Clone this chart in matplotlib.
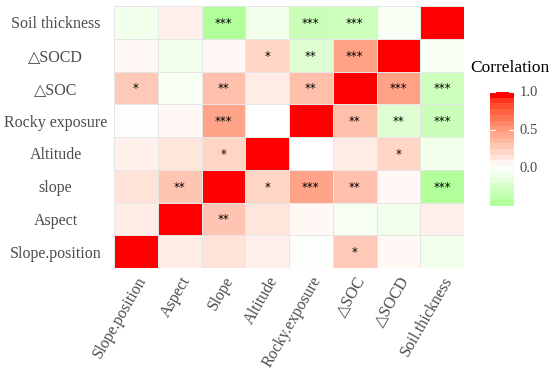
import matplotlib
matplotlib.use("Agg")
import matplotlib.pyplot as plt
from matplotlib.colors import ListedColormap, Normalize
import numpy as np

# variables, bottom-to-top on y and left-to-right on x
col_labels = ["Slope.position", "Aspect", "Slope", "Altitude", "Rocky.exposure",
              "△SOC", "△SOCD", "Soil.thickness"]
row_labels = ["Slope.position", "Aspect", "slope", "Altitude", "Rocky exposure",
              "△SOC", "△SOCD", "Soil thickness"]

# correlation matrix (same order as the labels)
corr = [
    [1.00, 0.10, 0.15, 0.08, -0.01, 0.28, 0.04, -0.10],
    [0.10, 1.00, 0.30, 0.13, 0.04, -0.06, -0.09, 0.08],
    [0.15, 0.30, 1.00, 0.22, 0.47, 0.32, 0.04, -0.50],
    [0.08, 0.13, 0.22, 1.00, 0.00, 0.10, 0.22, -0.10],
    [-0.01, 0.04, 0.47, 0.00, 1.00, 0.33, -0.22, -0.35],
    [0.28, -0.06, 0.32, 0.10, 0.33, 1.00, 0.48, -0.33],
    [0.04, -0.09, 0.04, 0.22, -0.22, 0.48, 1.00, -0.05],
    [-0.10, 0.08, -0.50, -0.10, -0.35, -0.33, -0.05, 1.00],
]
stars = [
    ["", "", "", "", "", "*", "", ""],
    ["", "", "**", "", "", "", "", ""],
    ["", "**", "", "*", "***", "**", "", "***"],
    ["", "", "*", "", "", "", "*", ""],
    ["", "", "***", "", "", "**", "**", "***"],
    ["*", "", "**", "", "**", "", "***", "***"],
    ["", "", "", "*", "**", "***", "", ""],
    ["", "", "***", "", "***", "***", "", ""],
]


# --- colour ramp interpolated in Lab space, like ggplot's gradient2 ---
def srgb_to_lab(rgb):
    c = np.asarray(rgb, float)
    c = np.where(c > 0.04045, ((c + 0.055) / 1.055) ** 2.4, c / 12.92)
    m = np.array([[0.4124, 0.3576, 0.1805],
                  [0.2126, 0.7152, 0.0722],
                  [0.0193, 0.1192, 0.9505]])
    xyz = m @ c / np.array([0.95047, 1.0, 1.08883])
    f = np.where(xyz > 0.008856, np.cbrt(xyz), 7.787 * xyz + 16 / 116)
    return np.array([116 * f[1] - 16, 500 * (f[0] - f[1]), 200 * (f[1] - f[2])])


def lab_to_srgb(lab):
    L, a, b = lab
    fy = (L + 16) / 116
    fx = fy + a / 500
    fz = fy - b / 200
    f = np.array([fx, fy, fz])
    xyz = np.where(f ** 3 > 0.008856, f ** 3, (f - 16 / 116) / 7.787)
    xyz = xyz * np.array([0.95047, 1.0, 1.08883])
    m = np.array([[3.2406, -1.5372, -0.4986],
                  [-0.9689, 1.8758, 0.0415],
                  [0.0557, -0.2040, 1.0570]])
    c = m @ xyz
    c = np.where(c > 0.0031308, 1.055 * np.clip(c, 0, None) ** (1 / 2.4) - 0.055, 12.92 * c)
    return np.clip(c, 0, 1)


white = srgb_to_lab([1, 1, 1])
green = srgb_to_lab([0, 1, 0])
red = srgb_to_lab([1, 0, 0])
ramp = []
for v in np.linspace(-1, 1, 511):
    end = green if v < 0 else red
    ramp.append(lab_to_srgb(white + abs(v) * (end - white)))
cmap = ListedColormap(ramp)
norm = Normalize(-1, 1)

serif = ["Liberation Serif", "DejaVu Sans"]
grey = "#4d4d4d"

fig = plt.figure(figsize=(5.5, 3.76), dpi=100)
ax = fig.add_axes([114 / 550, 1 - 268 / 376, 350 / 550, 262 / 376])

data = np.array(corr)
n = len(col_labels)
ax.pcolormesh(np.arange(n + 1), np.arange(n + 1), data, cmap=cmap, norm=norm,
              edgecolors="#e6e6e6", linewidth=0.5)
for i in range(n):
    for j in range(n):
        if stars[i][j]:
            ax.text(j + 0.5, i + 0.47, stars[i][j], ha="center", va="center",
                    fontsize=8.5, color="black")

ax.set_xlim(0, n)
ax.set_ylim(0, n)
ax.set_xticks(np.arange(n) + 0.5)
ax.set_yticks(np.arange(n) + 0.5)
ax.set_xticklabels(col_labels, rotation=60, ha="right", va="top",
                   rotation_mode="anchor", family=serif, fontsize=11.5, color=grey)
ax.set_yticklabels(row_labels, ha="center", family=serif, fontsize=11.5, color=grey)
ax.tick_params(axis="both", length=0)
ax.tick_params(axis="y", pad=42)
ax.tick_params(axis="x", pad=4)
for s in ax.spines.values():
    s.set_visible(False)

# colour bar covering the data range only (20 bins as in ggplot)
vmin, vmax = data.min(), data.max()
cax = fig.add_axes([490 / 550, 1 - 206 / 376, 24 / 550, 114 / 376])
bins = np.linspace(vmin, vmax, 20).reshape(-1, 1)
cax.imshow(bins, cmap=cmap, norm=norm, aspect="auto", origin="lower",
           extent=[0, 1, vmin, vmax], interpolation="nearest")
cax.set_xlim(0, 1)
cax.set_ylim(vmin, vmax)
cax.set_xticks([])
cbar_ticks = [0.0, 0.5, 1.0]
cax.set_yticks([])
for t in cbar_ticks:
    cax.plot([0, 0.2], [t, t], color="white", lw=0.8)
    cax.plot([0.8, 1], [t, t], color="white", lw=0.8)
    cax.text(1.25, t, f"{t:.1f}", transform=cax.get_yaxis_transform(),
             ha="left", va="center", family=serif, fontsize=10.5, color=grey)
for s in cax.spines.values():
    s.set_visible(False)
fig.text(470 / 550, 1 - 68 / 376, "Correlation", ha="left", va="center",
         family=serif, fontsize=12.5, color="black")

fig.savefig("out.png", dpi=100)
